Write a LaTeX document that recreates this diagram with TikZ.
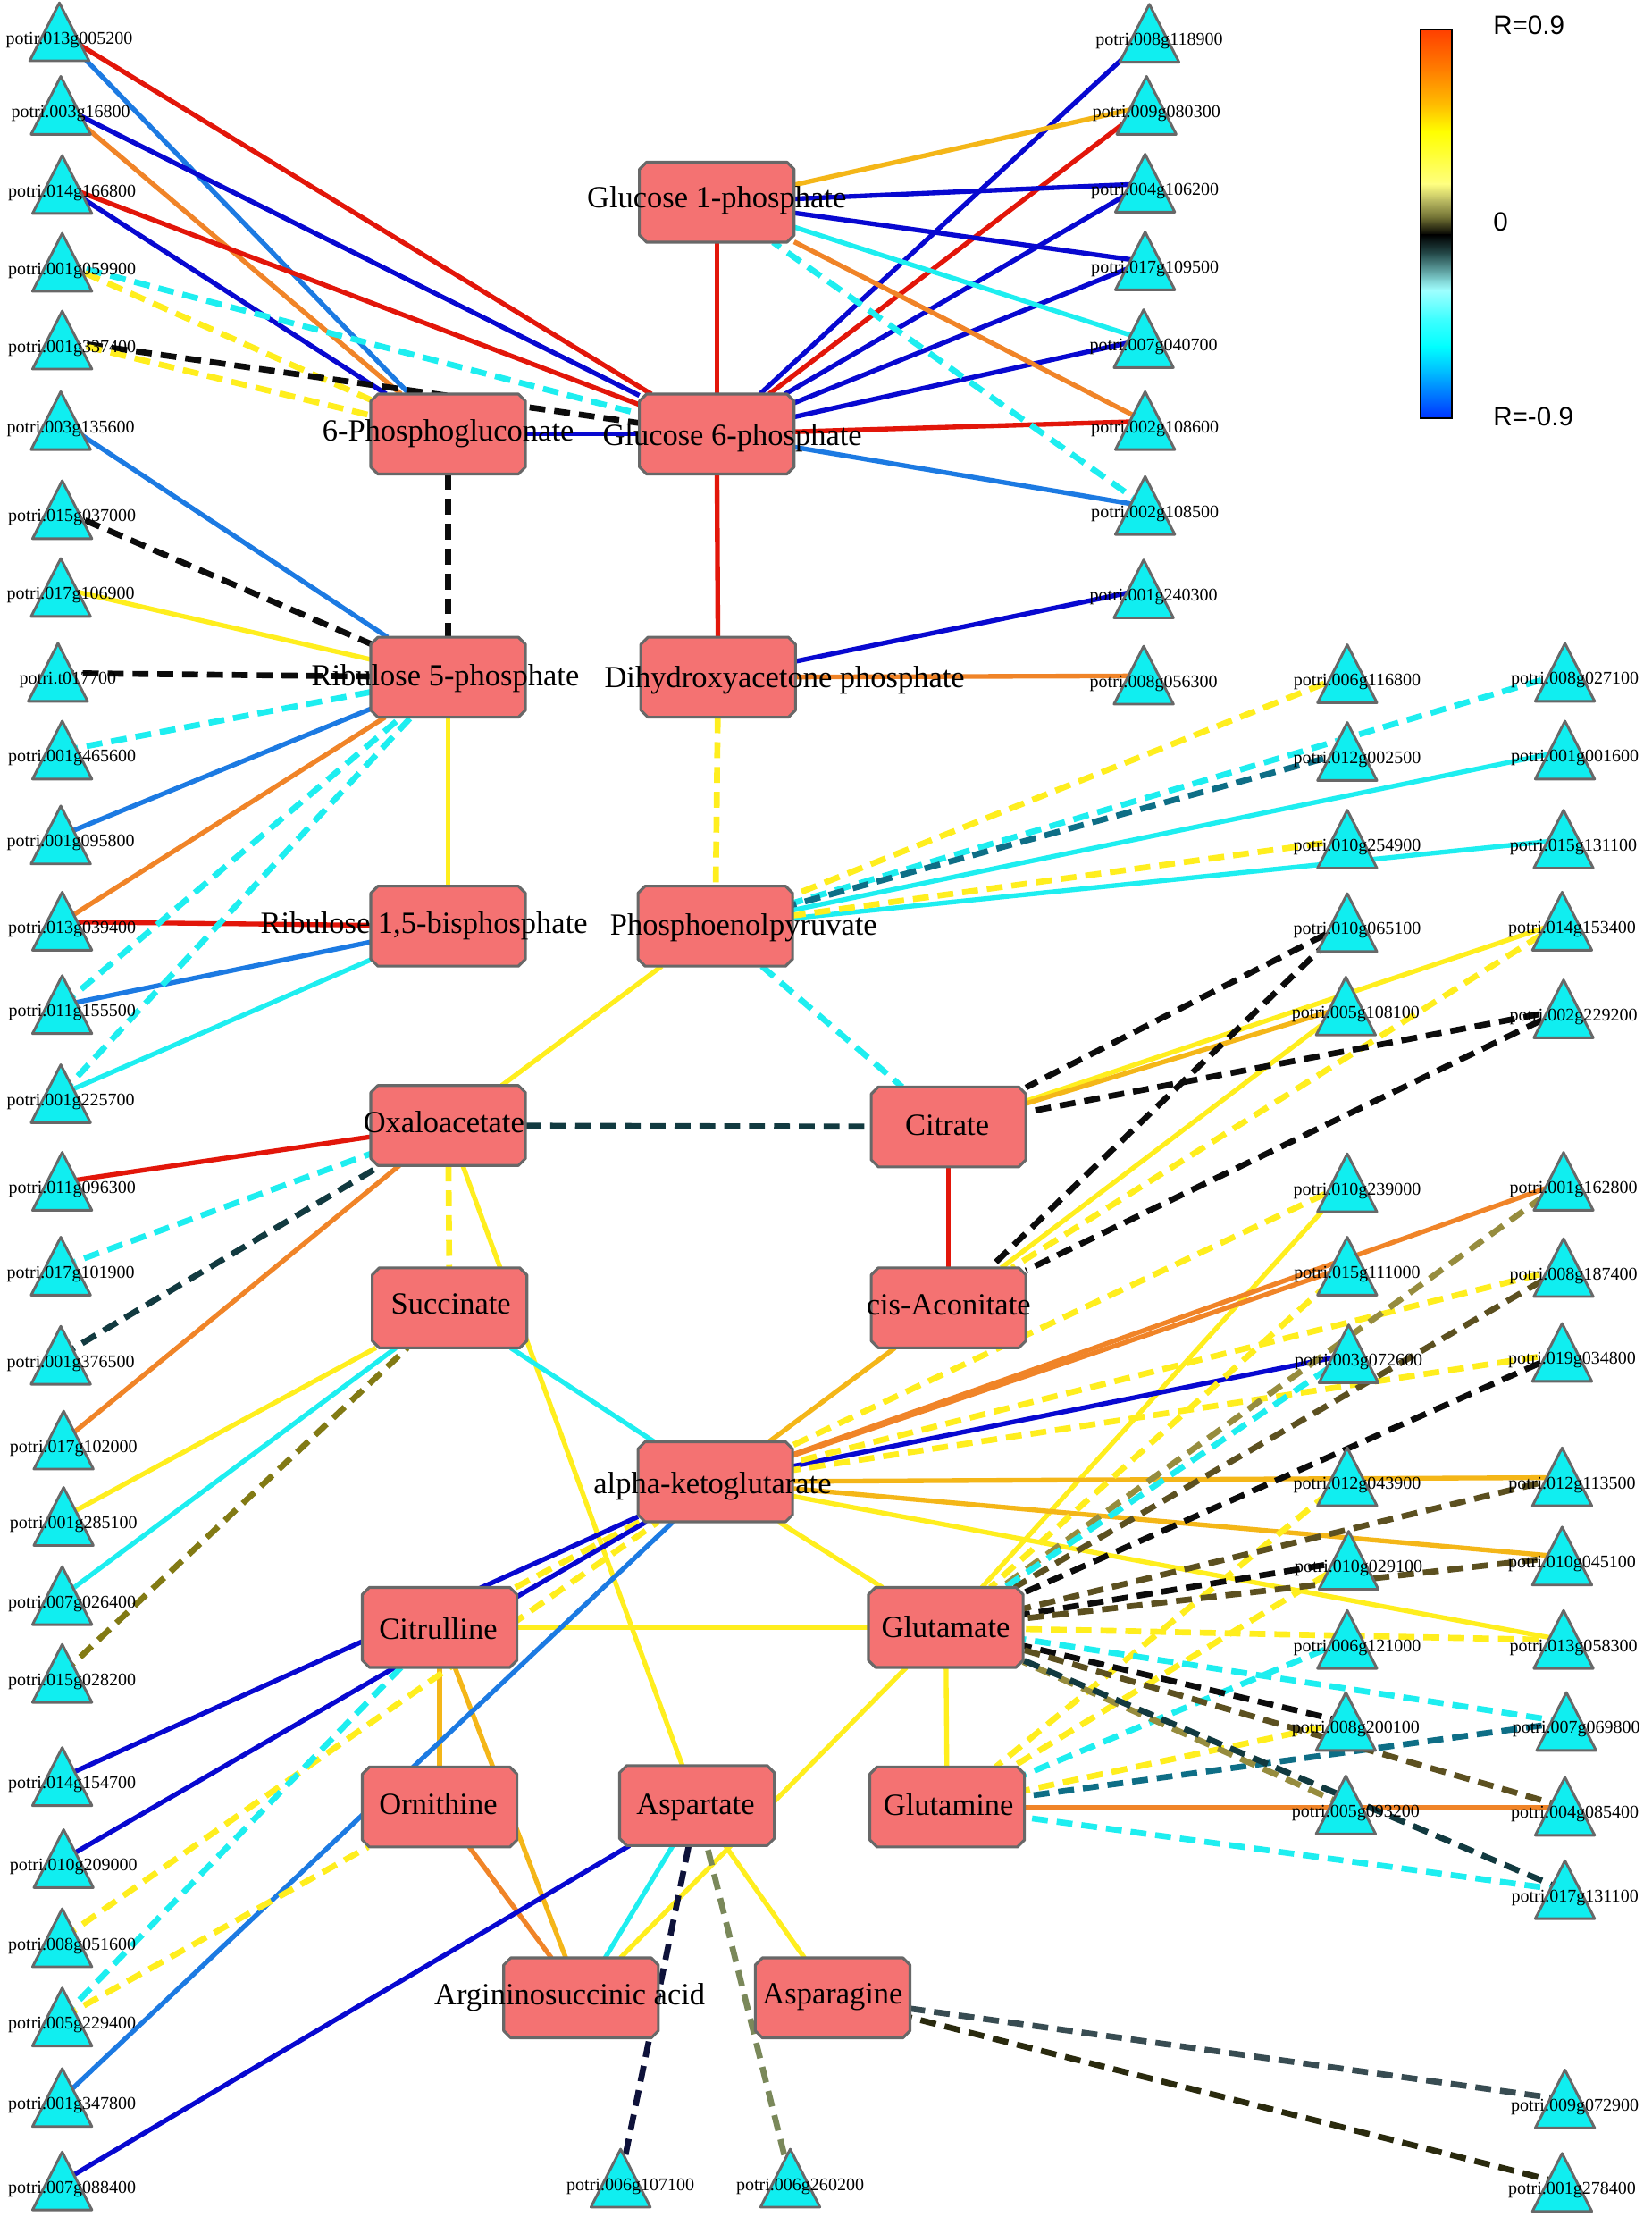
\documentclass[tikz,border=0pt]{standalone}
\usepackage{fontspec}
\setmainfont{Liberation Serif}
\newfontfamily\keyfont{Liberation Sans}
\usetikzlibrary{calc}
\pgfdeclarelayer{bg}
\pgfsetlayers{bg,main}
% edge colours (correlation scale)
\definecolor{ered}{RGB}{226,22,10}
\definecolor{eblue}{RGB}{8,8,208}
\definecolor{emblue}{RGB}{28,122,226}
\definecolor{eorange}{RGB}{240,132,40}
\definecolor{egold}{RGB}{244,182,24}
\definecolor{eyellow}{RGB}{255,238,30}
\definecolor{ecyan}{RGB}{30,238,240}
\definecolor{eblack}{RGB}{12,12,12}
\definecolor{edteal}{RGB}{18,58,64}
\definecolor{eteal}{RGB}{14,110,134}
\definecolor{eolive}{RGB}{130,122,20}
\definecolor{ekhaki}{RGB}{150,140,62}
\definecolor{edolive}{RGB}{92,80,32}
\definecolor{enavy}{RGB}{14,18,58}
\definecolor{esage}{RGB}{122,136,90}
\definecolor{eslate}{RGB}{56,76,82}
\definecolor{edark}{RGB}{42,42,14}
% node colours
\definecolor{boxfill}{RGB}{244,114,114}
\definecolor{boxgray}{RGB}{104,104,104}
\definecolor{genecyan}{RGB}{16,238,240}
% colour key stops
\definecolor{k0}{RGB}{255,64,0}
\definecolor{k1}{RGB}{255,128,0}
\definecolor{k2}{RGB}{255,192,0}
\definecolor{k3}{RGB}{255,255,0}
\definecolor{k4}{RGB}{255,255,64}
\definecolor{k5}{RGB}{255,255,128}
\definecolor{k6}{RGB}{190,190,100}
\definecolor{k7}{RGB}{110,110,50}
\definecolor{k8}{RGB}{0,0,0}
\definecolor{k9}{RGB}{40,80,80}
\definecolor{k10}{RGB}{128,210,210}
\definecolor{k11}{RGB}{160,255,255}
\definecolor{k12}{RGB}{64,255,255}
\definecolor{k13}{RGB}{0,255,255}
\definecolor{k14}{RGB}{0,180,255}
\definecolor{k15}{RGB}{0,50,255}
\tikzset{
  metab/.style={rectangle, minimum width=2.72cm, minimum height=1.4cm, inner sep=0pt},
  metabbox/.style={draw=boxgray, fill=boxfill, line width=1.4pt, line join=round},
  metlbl/.style={font=\fontsize{15.5}{18}\selectfont, inner sep=0pt,
    text height=2ex, text depth=.1ex},
  genetri/.style={draw=boxgray, fill=genecyan, line width=1.3pt, line join=round},
  genelbl/.style={font=\fontsize{9}{10}\selectfont, inner sep=0pt,
    text height=1.5ex, text depth=.25ex},
  keylbl/.style={font=\keyfont\fontsize{13.3}{15}\selectfont, anchor=west, inner sep=0pt},
  sol/.style={line width=2.4pt},
  dsh/.style={line width=3pt, dash pattern=on 8pt off 4.5pt}
}
\newcommand{\Metab}[6]{% #1=name, #2,#3=box centre, #4,#5=label centre, #6=text
  \node[metab] (#1) at (#2,#3) {};
  \filldraw[metabbox] ($(#1.north west)+(5,0)$) -- ($(#1.north east)+(-5,0)$)
    -- ($(#1.north east)+(0,5)$) -- ($(#1.south east)+(0,-5)$)
    -- ($(#1.south east)+(-5,0)$) -- ($(#1.south west)+(5,0)$)
    -- ($(#1.south west)+(0,-5)$) -- ($(#1.north west)+(0,5)$) -- cycle;
  \node[metlbl] (#1-lbl) at (#4,#5) {#6};
}
\newcommand{\Gene}[4]{% #1=name, #2,#3=centre, #4=label
  \coordinate (#1) at (#2,#3);
  \filldraw[genetri] ($(#1)+(-21,20)$) -- ($(#1)+(0,-21)$) -- ($(#1)+(21,20)$) -- cycle;
  \node[genelbl] (#1-lbl) at ($(#1)+(7,4)$) {#4};
}
\begin{document}
\begin{tikzpicture}[x=0.025cm, y=-0.025cm]
  \useasboundingbox (0,0) rectangle (1168,1568);

  % Metabolites
  \Metab{g1p}{507}{143}{507}{141}{Glucose 1-phosphate}
  \Metab{g6p}{507}{307}{518}{309}{Glucose 6-phosphate}
  \Metab{pg6}{317}{307}{317}{306}{6-Phosphogluconate}
  \Metab{ru5p}{317}{479}{315}{479}{Ribulose 5-phosphate}
  \Metab{dhap}{508}{479}{555}{480}{Dihydroxyacetone phosphate}
  \Metab{rubp}{317}{655}{300}{654}{Ribulose 1,5-bisphosphate}
  \Metab{pep}{506}{655}{526}{655}{Phosphoenolpyruvate}
  \Metab{oaa}{317}{796}{314}{795}{Oxaloacetate}
  \Metab{cit}{671}{797}{670}{797}{Citrate}
  \Metab{cis}{671}{925}{671}{924}{cis-Aconitate}
  \Metab{suc}{318}{925}{319}{923}{Succinate}
  \Metab{akg}{506}{1048}{504}{1050}{alpha-ketoglutarate}
  \Metab{citr}{311}{1151}{310}{1153}{Citrulline}
  \Metab{glu}{669}{1151}{669}{1152}{Glutamate}
  \Metab{orn}{311}{1278}{310}{1277}{Ornithine}
  \Metab{asp}{493}{1277}{492}{1277}{Aspartate}
  \Metab{gln}{670}{1278}{671}{1278}{Glutamine}
  \Metab{asa}{411}{1413}{403}{1412}{Argininosuccinic acid}
  \Metab{asn}{589}{1413}{589}{1411}{Asparagine}

  % --- Genes, left column ---
  \Gene{t013g005200}{42}{23}{potir.013g005200}
  \Gene{t003g16800}{43}{75}{potri.003g16800}
  \Gene{t014g166800}{44}{131}{potri.014g166800}
  \Gene{t001g059900}{44}{186}{potri.001g059900}
  \Gene{t001g337400}{44}{241}{potri.001g337400}
  \Gene{t003g135600}{43}{298}{potri.003g135600}
  \Gene{t015g037000}{44}{361}{potri.015g037000}
  \Gene{t017g106900}{43}{416}{potri.017g106900}
  \Gene{tt017700}{41}{476}{potri.t017700}
  \Gene{t001g465600}{44}{531}{potri.001g465600}
  \Gene{t001g095800}{43}{591}{potri.001g095800}
  \Gene{t013g039400}{44}{652}{potri.013g039400}
  \Gene{t011g155500}{44}{711}{potri.011g155500}
  \Gene{t001g225700}{43}{774}{potri.001g225700}
  \Gene{t011g096300}{44}{836}{potri.011g096300}
  \Gene{t017g101900}{43}{896}{potri.017g101900}
  \Gene{t001g376500}{43}{959}{potri.001g376500}
  \Gene{t017g102000}{45}{1019}{potri.017g102000}
  \Gene{t001g285100}{45}{1073}{potri.001g285100}
  \Gene{t007g026400}{44}{1129}{potri.007g026400}
  \Gene{t015g028200}{44}{1184}{potri.015g028200}
  \Gene{t014g154700}{44}{1257}{potri.014g154700}
  \Gene{t010g209000}{45}{1315}{potri.010g209000}
  \Gene{t008g051600}{44}{1371}{potri.008g051600}
  \Gene{t005g229400}{44}{1427}{potri.005g229400}
  \Gene{t001g347800}{44}{1484}{potri.001g347800}
  \Gene{t007g088400}{44}{1543}{potri.007g088400}

  % --- Genes, right side ---
  \Gene{t008g118900}{813}{24}{potri.008g118900}
  \Gene{t009g080300}{811}{75}{potri.009g080300}
  \Gene{t004g106200}{810}{130}{potri.004g106200}
  \Gene{t017g109500}{810}{185}{potri.017g109500}
  \Gene{t007g040700}{809}{240}{potri.007g040700}
  \Gene{t002g108600}{810}{298}{potri.002g108600}
  \Gene{t002g108500}{810}{358}{potri.002g108500}
  \Gene{t001g240300}{809}{417}{potri.001g240300}
  \Gene{t008g056300}{809}{478}{potri.008g056300}
  \Gene{t006g116800}{953}{477}{potri.006g116800}
  \Gene{t008g027100}{1107}{476}{potri.008g027100}
  \Gene{t012g002500}{953}{532}{potri.012g002500}
  \Gene{t001g001600}{1107}{531}{potri.001g001600}
  \Gene{t010g254900}{953}{594}{potri.010g254900}
  \Gene{t015g131100}{1106}{594}{potri.015g131100}
  \Gene{t010g065100}{953}{653}{potri.010g065100}
  \Gene{t014g153400}{1105}{652}{potri.014g153400}
  \Gene{t005g108100}{952}{712}{potri.005g108100}
  \Gene{t002g229200}{1106}{714}{potri.002g229200}
  \Gene{t010g239000}{953}{837}{potri.010g239000}
  \Gene{t001g162800}{1106}{836}{potri.001g162800}
  \Gene{t015g111000}{953}{896}{potri.015g111000}
  \Gene{t008g187400}{1106}{897}{potri.008g187400}
  \Gene{t003g072600}{954}{958}{potri.003g072600}
  \Gene{t019g034800}{1105}{957}{potri.019g034800}
  \Gene{t012g043900}{953}{1045}{potri.012g043900}
  \Gene{t012g113500}{1105}{1045}{potri.012g113500}
  \Gene{t010g029100}{954}{1104}{potri.010g029100}
  \Gene{t010g045100}{1105}{1101}{potri.010g045100}
  \Gene{t006g121000}{953}{1160}{potri.006g121000}
  \Gene{t013g058300}{1106}{1160}{potri.013g058300}
  \Gene{t008g200100}{952}{1218}{potri.008g200100}
  \Gene{t007g069800}{1108}{1218}{potri.007g069800}
  \Gene{t005g093200}{952}{1277}{potri.005g093200}
  \Gene{t004g085400}{1107}{1278}{potri.004g085400}
  \Gene{t017g131100}{1107}{1337}{potri.017g131100}
  \Gene{t009g072900}{1107}{1485}{potri.009g072900}
  \Gene{t001g278400}{1105}{1544}{potri.001g278400}
  % bottom
  \Gene{t006g107100}{439}{1541}{potri.006g107100}
  \Gene{t006g260200}{559}{1541}{potri.006g260200}

  % Colour key
  \foreach \ya/\yb/\ca/\cb in {21/50.5/k0/k1, 50/75.5/k1/k2, 75/93.5/k2/k3,
      93/112.5/k3/k4, 112/130.5/k4/k5, 130/141.5/k5/k6, 141/154.5/k6/k7,
      154/166.5/k7/k8, 166/180.5/k8/k9, 180/198.5/k9/k10, 198/205.5/k10/k11,
      205/225.5/k11/k12, 225/245.5/k12/k13, 245/265.5/k13/k14, 265/296/k14/k15}
    \shade[top color=\ca, bottom color=\cb] (1005,\ya) rectangle (1027,\yb);
  \draw[line width=1pt] (1005,21) rectangle (1027,296);
  \node[keylbl] (keyhi) at (1056,18) {R=0.9};
  \node[keylbl] (keymid) at (1056,157) {0};
  \node[keylbl] (keylo) at (1056,295) {R=-0.9};

  \begin{pgfonlayer}{bg}
    % --- metabolite to metabolite ---
    \foreach \a/\b/\c in {g1p/g6p/ered, g6p/dhap/ered, pg6/g6p/eblue,
        ru5p/rubp/eyellow, pep/oaa/eyellow, oaa/asp/eyellow, cit/cis/ered,
        cis/akg/egold, suc/akg/ecyan, akg/glu/eyellow, citr/glu/eyellow,
        citr/orn/egold, citr/asa/egold, orn/asa/eorange, glu/gln/eyellow,
        glu/asa/eyellow, asp/asa/ecyan, asp/asn/eyellow}
      \draw[sol,\c] (\a) -- (\b);
    \foreach \a/\b/\c in {pg6/ru5p/eblack, dhap/pep/eyellow, pep/cit/ecyan,
        oaa/cit/edteal, oaa/suc/eyellow, citr/akg/eyellow}
      \draw[dsh,\c] (\a) -- (\b);

    % --- left genes ---
    \foreach \a/\b/\c in {t013g005200/g6p/ered, t013g005200/pg6/emblue,
        t003g16800/g6p/eblue, t003g16800/pg6/eorange, t014g166800/g6p/ered,
        t014g166800/pg6/eblue, t003g135600/ru5p/emblue, t017g106900/ru5p/eyellow,
        t001g095800/ru5p/emblue, t013g039400/ru5p/eorange, t013g039400/rubp/ered,
        t011g155500/rubp/emblue, t001g225700/rubp/ecyan, t011g096300/oaa/ered,
        t017g102000/oaa/eorange, t001g285100/suc/eyellow, t007g026400/suc/ecyan,
        t014g154700/akg/eblue, t010g209000/akg/eblue, t001g347800/akg/emblue,
        t007g088400/asp/eblue}
      \draw[sol,\c] (\a) -- (\b);
    \foreach \a/\b/\c in {t001g059900/g6p/ecyan, t001g059900/pg6/eyellow,
        t001g337400/g6p/eblack, t001g337400/pg6/eyellow, t015g037000/ru5p/eblack,
        tt017700/ru5p/eblack, t001g465600/ru5p/ecyan, t011g155500/ru5p/ecyan,
        t001g225700/ru5p/ecyan, t017g101900/oaa/ecyan, t001g376500/oaa/edteal,
        t015g028200/suc/eolive, t008g051600/akg/eyellow, t005g229400/citr/ecyan,
        t005g229400/orn/eyellow}
      \draw[dsh,\c] (\a) -- (\b);

    % --- right genes ---
    \foreach \a/\b/\c in {t008g118900/g6p/eblue, t009g080300/g1p/egold,
        t009g080300/g6p/ered, t004g106200/g1p/eblue, t004g106200/g6p/eblue,
        t017g109500/g1p/eblue, t017g109500/g6p/eblue, t007g040700/g1p/ecyan,
        t007g040700/g6p/eblue, t002g108600/g1p/eorange, t002g108600/g6p/ered,
        t002g108500/g6p/emblue, t001g240300/dhap/eblue, t008g056300/dhap/eorange,
        t001g001600/pep/ecyan, t015g131100/pep/ecyan, t014g153400/cit/eyellow,
        t005g108100/cit/egold, t005g108100/cis/eyellow, t010g239000/glu/eyellow,
        t001g162800/akg/eorange, t015g111000/akg/eorange, t003g072600/akg/eblue,
        t012g113500/akg/egold, t010g045100/akg/egold, t013g058300/akg/eyellow,
        t004g085400/gln/eorange}
      \draw[sol,\c] (\a) -- (\b);
    \foreach \a/\b/\c in {t002g108500/g1p/ecyan, t006g116800/pep/eyellow,
        t008g027100/pep/ecyan, t012g002500/pep/eteal, t010g254900/pep/eyellow,
        t010g065100/cit/eblack, t010g065100/cis/eblack, t014g153400/cis/eyellow,
        t002g229200/cit/eblack, t002g229200/cis/eblack, t010g239000/akg/eyellow,
        t008g187400/akg/eyellow, t019g034800/akg/eyellow, t001g162800/glu/ekhaki,
        t015g111000/glu/eyellow, t008g187400/glu/edolive, t003g072600/glu/ecyan,
        t019g034800/glu/eblack, t012g043900/gln/eyellow, t012g113500/glu/edolive,
        t010g029100/glu/eblack, t010g029100/gln/eyellow, t010g045100/glu/edolive,
        t006g121000/gln/ecyan, t013g058300/glu/eyellow, t008g200100/glu/eblack,
        t008g200100/gln/eyellow, t007g069800/glu/ecyan, t007g069800/gln/eteal,
        t005g093200/glu/ekhaki, t004g085400/glu/edolive, t017g131100/glu/edteal,
        t017g131100/gln/ecyan, t009g072900/asn/eslate, t001g278400/asn/edark,
        t006g107100/asp/enavy, t006g260200/asp/esage}
      \draw[dsh,\c] (\a) -- (\b);
  \end{pgfonlayer}
\end{tikzpicture}
\end{document}
